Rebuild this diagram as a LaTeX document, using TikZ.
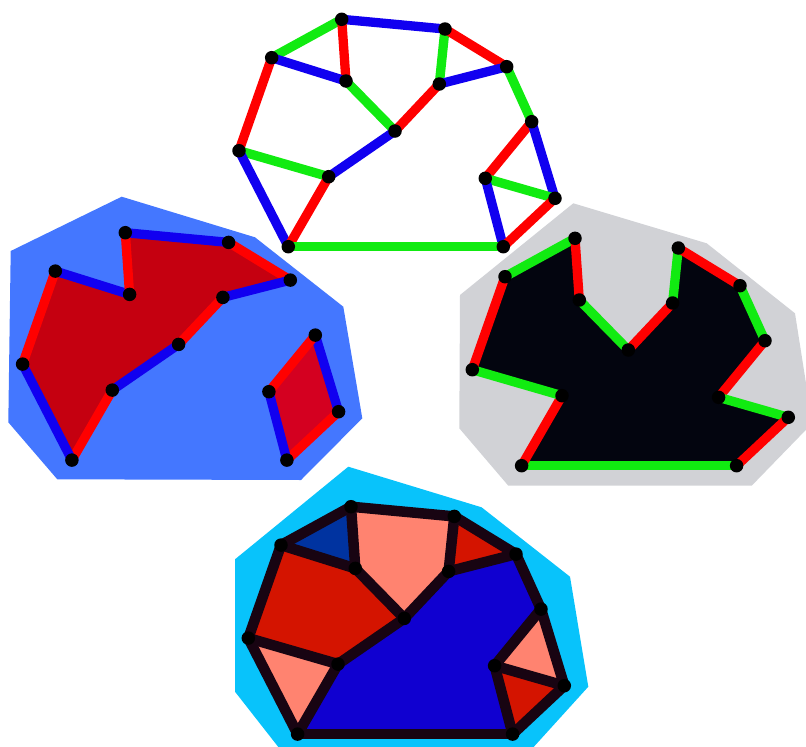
\documentclass[tikz,border=0pt]{standalone}
\definecolor{ered}{RGB}{255,0,0}
\definecolor{egreen}{RGB}{17,235,17}
\definecolor{eblue}{RGB}{17,0,240}
\definecolor{hullblue}{RGB}{68,119,255}
\definecolor{hullgray}{RGB}{209,210,214}
\definecolor{hullcyan}{RGB}{8,195,251}
\definecolor{fillred}{RGB}{197,0,16}
\definecolor{fillredb}{RGB}{212,0,32}
\definecolor{fillblack}{RGB}{3,5,15}
\definecolor{fdkblue}{RGB}{0,51,160}
\definecolor{fsalmon}{RGB}{255,131,112}
\definecolor{fred}{RGB}{212,20,0}
\definecolor{fblue}{RGB}{16,0,208}
\definecolor{edark}{RGB}{24,4,18}
\newcommand\placegraph[3]{%
  \foreach \n/\px/\py in {A/341.7/19.3,B/445/29,C/271.7/57.7,D/346/81,E/439.3/84,F/506.7/66.7,G/395/131,H/531.7/121.7,I/239/150.7,J/328.7/176.7,K/485.3/178.3,L/555/198.3,M/288.3/246.7,N/503.3/246.7}
    {\coordinate (#1\n) at (\px+#2,\py+#3);}%
}
\newcommand\putdots[1]{%
  \foreach \n in {A,B,C,D,E,F,G,H,I,J,K,L,M,N}
    {\node[dot] (#1\n-d) at (#1\n) {};}%
}
\tikzset{
  edge/.style={line width=9.3pt},
  darkedge/.style={line width=10.5pt, edark, line join=round},
  dot/.style={circle, fill=black, inner sep=0pt, minimum size=13.5pt},
}
\begin{document}
\begin{tikzpicture}[x=1pt,y=-1pt]
\useasboundingbox (0,0) rectangle (806,747);
\clip (0,0) rectangle (806,747);
% coordinates of the four copies
\placegraph{t}{0}{0}
\placegraph{b}{-216.4}{213.4}
\placegraph{g}{233.3}{219}
\placegraph{c}{9.3}{487.4}

% ---------- hulls ----------
\fill[hullblue] (121.7,196.7) -- (255,237.3) -- (343.3,306.7) -- (362.3,418.3)
  -- (301,480) -- (57.3,479.3) -- (8.3,422.3) -- (10.7,251) -- cycle;
\fill[hullgray] (573.3,203.3) -- (706.7,243.3) -- (795,313.3) -- (812.3,423.3)
  -- (751.7,485.7) -- (508.3,485.7) -- (459.3,428.3) -- (460,295) -- cycle;
\fill[hullcyan] (348.3,466.7) -- (481.6,507.3) -- (570,576.7) -- (588.3,686.7)
  -- (527.3,754) -- (283.8,754) -- (235,691.7) -- (235,559.3) -- cycle;

% ---------- top graph ----------
\foreach \u/\v/\c in {A/C/egreen,A/B/eblue,A/D/ered,B/E/egreen,B/F/ered,C/D/eblue,
  C/I/ered,D/G/egreen,E/F/eblue,E/G/ered,F/H/egreen,G/J/eblue,H/K/ered,H/L/eblue,
  I/J/egreen,I/M/eblue,J/M/ered,K/L/egreen,K/N/eblue,L/N/ered,M/N/egreen}
  {\draw[edge,\c] (t\u) -- (t\v);}
\putdots{t}

% ---------- blue panel ----------
\fill[fillred] (bA) -- (bB) -- (bF) -- (bE) -- (bG) -- (bJ) -- (bM) -- (bI) -- (bC) -- (bD) -- cycle;
\fill[fillredb] (bH) -- (bL) -- (bN) -- (bK) -- cycle;
\foreach \u/\v/\c in {A/B/eblue,B/F/ered,F/E/eblue,E/G/ered,G/J/eblue,J/M/ered,
  M/I/eblue,I/C/ered,C/D/eblue,D/A/ered,H/L/eblue,L/N/ered,N/K/eblue,K/H/ered}
  {\draw[edge,\c] (b\u) -- (b\v);}
\putdots{b}

% ---------- gray panel ----------
\fill[fillblack] (gC) -- (gA) -- (gD) -- (gG) -- (gE) -- (gB) -- (gF) -- (gH) -- (gK)
  -- (gL) -- (gN) -- (gM) -- (gJ) -- (gI) -- cycle;
\foreach \u/\v/\c in {C/A/egreen,A/D/ered,D/G/egreen,G/E/ered,E/B/egreen,B/F/ered,
  F/H/egreen,H/K/ered,K/L/egreen,L/N/ered,N/M/egreen,M/J/ered,J/I/egreen,I/C/ered}
  {\draw[edge,\c] (g\u) -- (g\v);}
\putdots{g}

% ---------- cyan panel ----------
\fill[fdkblue] (cC) -- (cA) -- (cD) -- cycle;
\fill[fsalmon] (cA) -- (cB) -- (cE) -- (cG) -- (cD) -- cycle;
\fill[fred] (cB) -- (cF) -- (cE) -- cycle;
\fill[fred] (cC) -- (cD) -- (cG) -- (cJ) -- (cI) -- cycle;
\fill[fsalmon] (cI) -- (cJ) -- (cM) -- cycle;
\fill[fblue] (cE) -- (cF) -- (cH) -- (cK) -- (cN) -- (cM) -- (cJ) -- (cG) -- cycle;
\fill[fsalmon] (cH) -- (cK) -- (cL) -- cycle;
\fill[fred] (cK) -- (cL) -- (cN) -- cycle;
\foreach \u/\v in {A/C,A/B,A/D,B/E,B/F,C/D,C/I,D/G,E/F,E/G,F/H,G/J,H/K,H/L,
  I/J,I/M,J/M,K/L,K/N,L/N,M/N}
  {\draw[darkedge] (c\u) -- (c\v);}
\putdots{c}
\end{tikzpicture}
\end{document}
